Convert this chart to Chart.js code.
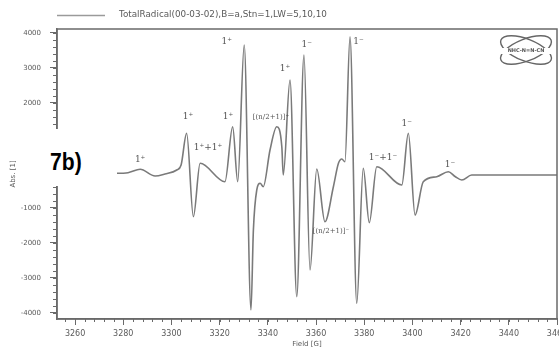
<!DOCTYPE html>
<html>
<head>
<meta charset="utf-8">
<script src="https://cdn.jsdelivr.net/npm/chart.js@4.4.0/dist/chart.umd.min.js"></script>
<style>
    html, body { margin: 0; padding: 0; background: #fff; overflow: hidden; }
    #wrap { position: relative; width: 559px; height: 349px; overflow: hidden; }
    #holder { position: absolute; left: 0; top: 0; width: 590px; height: 349px; }
    #tag {
        position: absolute; left: 21px; top: 129px; width: 96px; height: 57px;
        background: #fff;
    }
    #tag span {
        position: absolute; left: 29px; top: 21px;
        font: bold 24px "Liberation Sans", Arial, sans-serif; line-height: 24px;
        color: #000; transform: scaleX(0.88); transform-origin: left top;
    }
</style>
</head>
<body>
<div id="wrap">
    <div id="holder"><canvas id="epr-chart" width="590" height="349"></canvas></div>
    <div id="tag"><span>7b)</span></div>
</div>
<script>
// Field [G] and signal
const fieldValues = [
    3253, 3277.3, 3282.0, 3287.0, 3293.2, 3297.3, 3302.2, 3304.0, 3306.3, 3309.1,
    3311.9, 3322.2, 3325.4, 3327.5, 3330.2, 3333.0, 3334.0, 3335.4, 3336.8, 3338.1,
    3340.9, 3343.7, 3345.8, 3346.4, 3349.2, 3352.0, 3355.0, 3357.5, 3360.3, 3363.7,
    3367.2, 3369.3, 3370.7, 3372.0, 3374.1, 3376.9, 3379.6, 3382.1, 3385.2, 3395.6,
    3398.3, 3401.1, 3404.5, 3410.1, 3414.9, 3417.7, 3420.5, 3424.6, 3460
];
const signalValues = [
    -17, -17, 0, 97, -94, -37, 77, 220, 1126, -1257,
    269, -257, 1314, -257, 3649, -3923, -1637, -494, -303, -400,
    649, 1314, 743, -66, 2649, -3543, 3363, -2780, 106, -1400,
    -400, 269, 391, 314, 3886, -3731, 126, -1429, 171, -351,
    1126, -1209, -257, -114, 29, -109, -209, -66, -66
];

const seriesLabel = 'TotalRadical(00-03-02),B=a,Stn=1,LW=5,10,10';

const xTickValues = [3260, 3280, 3300, 3320, 3340, 3360, 3380, 3400, 3420, 3440, 3460];
const yTickValues = [-4000, -3000, -2000, -1000, 0, 1000, 2000, 3000, 4000];

// peak assignments written on the spectrum
const peakLabels = ['1⁺', '1⁺', '1⁺+1⁺', '1⁺', '1⁺', '[(n/2+1)]⁺', '1⁺', '1⁻', '1⁻', '[(n/2+1)]⁻', '1⁻+1⁻', '1⁻', '1⁻'];
const peakLabelFields = [3287, 3306.9, 3315.2, 3323.5, 3322.9, 3341.3, 3347.1, 3356.1, 3377.6, 3366.2, 3387.8, 3397.6, 3415.6];
const peakLabelValues = [363, 1590, 706, 1590, 3743, 1589, 2963, 3649, 3743, -1666, 420, 1411, 220];

const xRange = { min: 3252.5, max: 3460, minor: 4 };
const yRange = { min: -4180, max: 4106, minor: 200 };

const frameColor = '#6a6a6a';
const textColor = '#5a5a5a';

// box round the plot plus the small minor ticks
const framePlugin = {
    id: 'frame',
    afterDraw(chart) {
        const { ctx, chartArea: a, scales } = chart;
        ctx.save();
        ctx.strokeStyle = frameColor;
        ctx.lineWidth = 1.5;
        ctx.strokeRect(a.left, a.top, a.right - a.left, a.bottom - a.top);

        ctx.lineWidth = 1;
        ctx.beginPath();
        for (let v = Math.ceil(xRange.min / xRange.minor) * xRange.minor; v <= xRange.max; v += xRange.minor) {
            const px = Math.round(scales.x.getPixelForValue(v)) + 0.5;
            ctx.moveTo(px, a.bottom);
            ctx.lineTo(px, a.bottom + 3);
        }
        for (let v = Math.ceil(yRange.min / yRange.minor) * yRange.minor; v <= yRange.max; v += yRange.minor) {
            const py = Math.round(scales.y.getPixelForValue(v)) + 0.5;
            ctx.moveTo(a.left, py);
            ctx.lineTo(a.left - 4, py);
        }
        ctx.stroke();
        ctx.restore();
    }
};

// legend line + caption above the frame
const legendPlugin = {
    id: 'topLegend',
    afterDraw(chart) {
        const { ctx } = chart;
        ctx.save();
        ctx.strokeStyle = '#9a9a9a';
        ctx.lineWidth = 1.5;
        ctx.beginPath();
        ctx.moveTo(57, 15.5);
        ctx.lineTo(105, 15.5);
        ctx.stroke();
        ctx.fillStyle = textColor;
        ctx.font = '8.8px "DejaVu Sans", sans-serif';
        ctx.textBaseline = 'middle';
        ctx.fillText(chart.data.datasets[0].label, 119, 15);
        ctx.restore();
    }
};

const peakLabelPlugin = {
    id: 'peakLabels',
    afterDatasetsDraw(chart) {
        const { ctx, scales } = chart;
        ctx.save();
        ctx.fillStyle = '#555';
        ctx.textAlign = 'center';
        ctx.textBaseline = 'middle';
        peakLabels.forEach((text, i) => {
            const small = text.length > 5;
            ctx.font = (small ? '7px' : '9px') + ' "DejaVu Serif", serif';
            ctx.fillText(text, scales.x.getPixelForValue(peakLabelFields[i]), scales.y.getPixelForValue(peakLabelValues[i]));
        });
        ctx.restore();
    }
};

// little molecule sketch in the top right corner
const logoPlugin = {
    id: 'logo',
    afterDraw(chart) {
        const { ctx } = chart;
        ctx.save();
        ctx.strokeStyle = '#666';
        ctx.lineWidth = 1.4;
        [0.38, -0.38].forEach(rot => {
            ctx.beginPath();
            ctx.ellipse(526, 50, 27, 11, rot, 0, Math.PI * 2);
            ctx.stroke();
        });
        ctx.fillStyle = '#fff';
        ctx.fillRect(499, 48, 54, 6);
        ctx.fillStyle = '#555';
        ctx.font = 'bold 5px "DejaVu Sans", sans-serif';
        ctx.textAlign = 'center';
        ctx.textBaseline = 'middle';
        ctx.fillText('NHC-N=N-CN', 526, 51);
        ctx.restore();
    }
};

const canvas = document.querySelector('#epr-chart');

new Chart(canvas, {
    type: 'line',
    data: {
        datasets: [{
            label: seriesLabel,
            data: fieldValues.map((f, i) => ({ x: f, y: signalValues[i] })),
            borderColor: '#7a7a7a',
            borderWidth: 1.6,
            pointRadius: 0,
            fill: false,
            cubicInterpolationMode: 'monotone'
        }]
    },
    options: {
        responsive: false,
        animation: false,
        devicePixelRatio: 1,
        layout: {
            padding: { top: 29, left: 0, right: 33, bottom: 0 }
        },
        scales: {
            x: {
                type: 'linear',
                min: xRange.min,
                max: xRange.max,
                afterFit(scale) { scale.height = 30; },
                afterBuildTicks(scale) { scale.ticks = xTickValues.map(v => ({ value: v })); },
                ticks: {
                    autoSkip: false,
                    maxRotation: 0,
                    padding: 4,
                    color: textColor,
                    font: { size: 8, family: '"DejaVu Sans", sans-serif' },
                    callback: value => String(value)
                },
                grid: {
                    drawOnChartArea: false,
                    drawTicks: true,
                    tickLength: 6,
                    color: frameColor
                },
                border: { display: true, color: frameColor, width: 1.5 },
                title: {
                    display: true,
                    text: 'Field [G]',
                    color: textColor,
                    font: { size: 7, family: '"DejaVu Sans", sans-serif' },
                    padding: { top: 0, bottom: 1 }
                }
            },
            y: {
                min: yRange.min,
                max: yRange.max,
                afterFit(scale) { scale.width = 57; },
                afterBuildTicks(scale) { scale.ticks = yTickValues.map(v => ({ value: v })); },
                ticks: {
                    autoSkip: false,
                    padding: 9,
                    color: textColor,
                    font: { size: 7, family: '"DejaVu Sans", sans-serif' },
                    callback: value => String(value)
                },
                grid: {
                    drawOnChartArea: false,
                    drawTicks: true,
                    tickLength: 7,
                    color: frameColor
                },
                border: { display: true, color: frameColor, width: 1.5 },
                title: {
                    display: true,
                    text: 'Abs. [1]',
                    color: textColor,
                    font: { size: 7, family: '"DejaVu Sans", sans-serif' },
                    padding: { top: 9, bottom: 0 }
                }
            }
        },
        plugins: {
            legend: { display: false },
            tooltip: { enabled: false }
        }
    },
    plugins: [framePlugin, legendPlugin, peakLabelPlugin, logoPlugin]
});
</script>
</body>
</html>
